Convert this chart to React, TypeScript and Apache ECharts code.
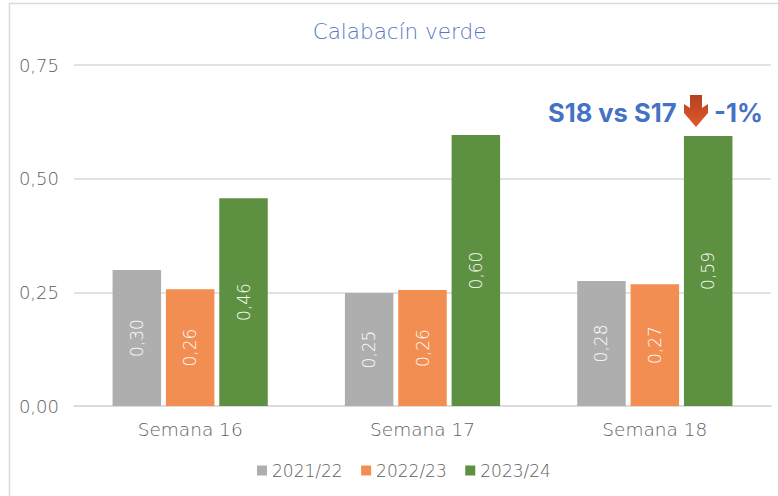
import React, { useEffect, useRef } from "react";
import * as echarts from "echarts";

const categories = ["Semana 16", "Semana 17", "Semana 18"];
const seriesNames = ["2021/22", "2022/23", "2023/24"];
const values2122 = [0.299, 0.2485, 0.275];
const values2223 = [0.257, 0.255, 0.268];
const values2324 = [0.457, 0.596, 0.594];
const colors = ["#AEAEAE", "#F28E52", "#5D9141"];
const yTicks = { min: 0, max: 0.75, interval: 0.25 };
const FONT = "'DejaVu Sans'";
const BOLD = "Inter";

echarts.graphic.registerShape(
  "downArrow",
  echarts.graphic.extendPath("M6 0 H18 V13 L24 9 V18 L12 32 L0 18 V9 L6 13 Z", {})
);

const comma = (v: number) => v.toFixed(2).replace(".", ",");

export default function App() {
  const ref = useRef<HTMLDivElement>(null);
  useEffect(() => {
    const chart = echarts.init(ref.current!, undefined, { renderer: "svg" });
    const all = [values2122, values2223, values2324];
    chart.setOption({
      animation: false,
      backgroundColor: "#fff",
      title: {
        text: "Calabacín verde",
        left: 394.5,
        top: 15,
        textAlign: "center",
        textStyle: { color: "#5678C4", fontFamily: FONT, fontSize: 21.5, fontWeight: 200 },
      },
      grid: { left: 74, right: 7, top: 65, bottom: 90, containLabel: false },
      legend: {
        data: seriesNames,
        left: 252,
        top: 457,
        itemWidth: 10,
        itemHeight: 10,
        itemGap: 18.5,
        icon: "rect",
        textStyle: { color: "#5E5E5E", fontFamily: FONT, fontSize: 17, fontWeight: 200, padding: [0, 0, 0, 0] },
      },
      xAxis: {
        type: "category",
        data: categories,
        axisTick: { show: false },
        axisLine: { lineStyle: { color: "#D9D9D9", width: 1.5 } },
        axisLabel: { color: "#5E5E5E", fontFamily: FONT, fontSize: 18.5, fontWeight: 200, margin: 14 },
      },
      yAxis: {
        type: "value",
        min: yTicks.min,
        max: yTicks.max,
        interval: yTicks.interval,
        axisLine: { show: false },
        axisTick: { show: false },
        splitLine: { lineStyle: { color: "#D9D9D9", width: 1.5 } },
        axisLabel: { color: "#5E5E5E", fontFamily: FONT, fontSize: 18, fontWeight: 200, margin: 15, formatter: comma },
      },
      series: seriesNames.map((name, i) => ({
        name,
        type: "bar",
        data: all[i],
        barWidth: 48.5,
        barGap: "10%",
        itemStyle: { color: colors[i] },
        label: {
          show: true,
          position: "inside",
          rotate: 90,
          color: "#fff",
          fontFamily: FONT,
          fontSize: 17,
          fontWeight: 200,
          formatter: (p: any) => comma(p.value),
        },
      })),
      graphic: [
        {
          type: "rect",
          silent: true,
          shape: { x: 9.5, y: 3.5, width: 790, height: 520 },
          style: { fill: "none", stroke: "#D9D9D9", lineWidth: 1.5 },
        },
        {
          type: "text",
          x: 548,
          y: 99,
          style: { text: "S18 vs S17", fill: "#4472C4", font: `bold 25.5px ${BOLD}` },
        },
        {
          type: "downArrow",
          x: 684,
          y: 95,
          style: {
            fill: new echarts.graphic.LinearGradient(0, 0, 0, 1, [
              { offset: 0, color: "#B5401F" },
              { offset: 1, color: "#E25A2C" },
            ]),
          },
        },
        {
          type: "text",
          x: 714,
          y: 99,
          style: { text: "-1%", fill: "#4472C4", font: `bold 25.5px ${BOLD}` },
        },
      ],
    });
    return () => chart.dispose();
  }, []);
  return <div ref={ref} style={{ position: "fixed", left: 0, top: 0, width: 778, height: 496 }} />;
}
